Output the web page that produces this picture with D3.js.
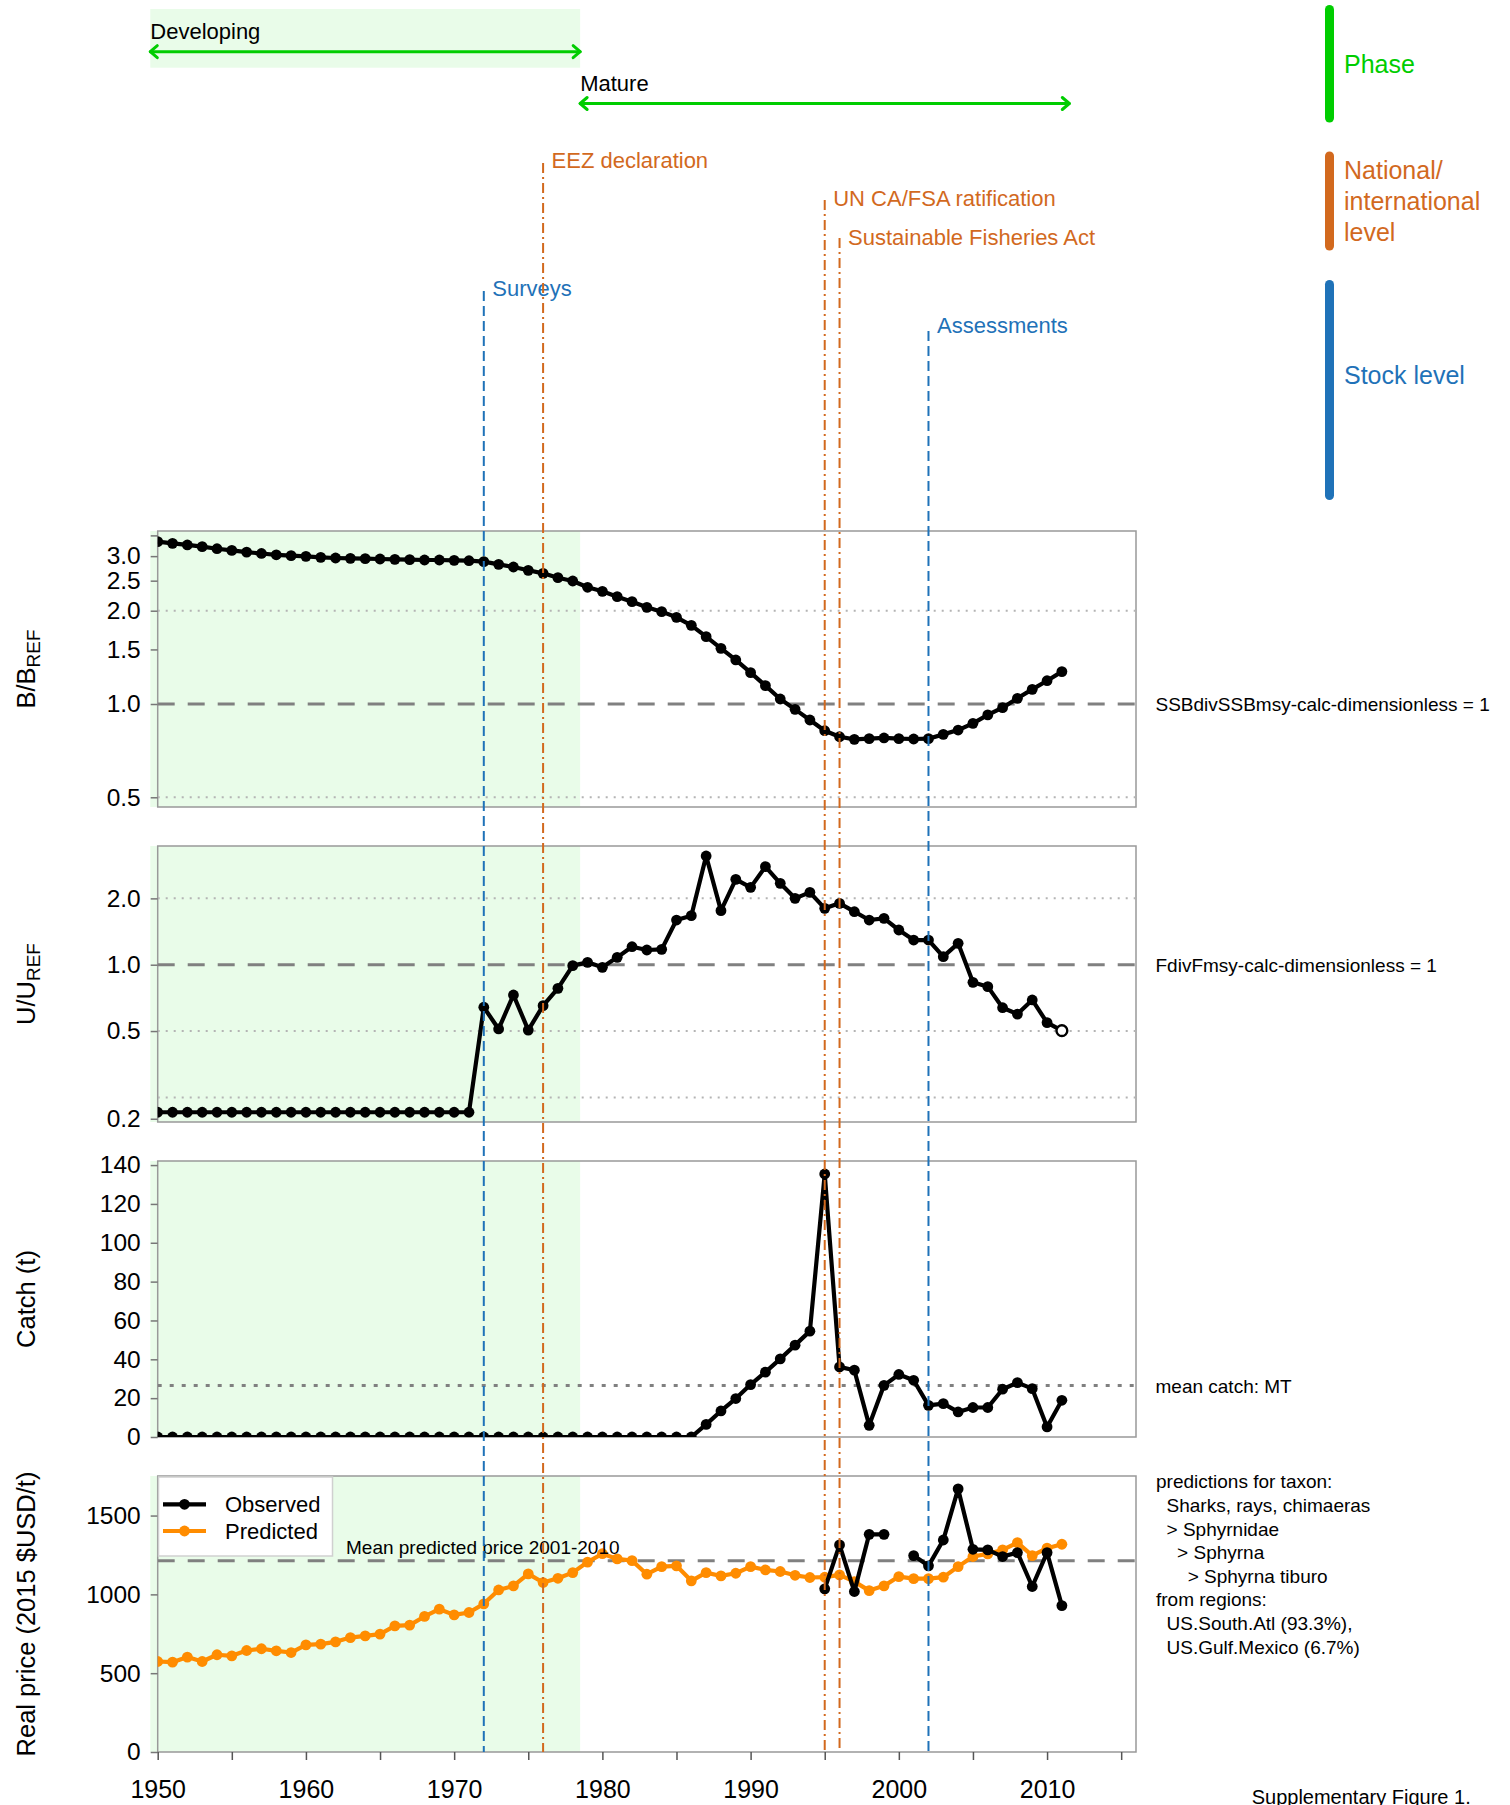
<!DOCTYPE html>
<html><head><meta charset="utf-8">
<script src="https://cdn.jsdelivr.net/npm/d3@7"></script>
<style>
body{margin:0;background:#fff}
svg{display:block}
text{font-family:"Liberation Sans",Arial,Helvetica,sans-serif}
</style>
</head><body>
<svg id="c" width="1510" height="1805"></svg>
<script>
// ---------------- DATA ----------------
const years = d3.range(1950, 2012);

const bRatio = [3.34,3.30,3.26,3.22,3.17,3.13,3.09,3.06,3.03,3.01,
  2.995,2.973,2.959,2.951,2.944,2.937,2.929,2.922,2.915,2.915,
  2.908,2.900,2.879,2.823,2.767,2.700,2.640,2.556,2.494,2.38,
  2.31,2.22,2.139,2.051,1.986,1.904,1.794,1.649,1.512,1.387,
  1.262,1.146,1.038,0.961,0.888,0.820,0.784,0.769,0.773,0.777,
  0.773,0.771,0.773,0.798,0.824,0.866,0.922,0.973,1.043,1.115,
  1.189,1.272];

const uRatio = [0.214,0.214,0.214,0.214,0.214,0.214,0.214,0.214,0.214,0.214,
  0.214,0.214,0.214,0.214,0.214,0.214,0.214,0.214,0.214,0.214,
  0.214,0.214,0.641,0.511,0.729,0.505,0.652,0.781,0.99,1.025,
  0.973,1.080,1.207,1.166,1.174,1.595,1.669,3.114,1.759,2.440,
  2.244,2.785,2.340,2.001,2.130,1.802,1.899,1.740,1.595,1.623,
  1.437,1.294,1.294,1.088,1.250,0.832,0.795,0.638,0.597,0.692,
  0.546,0.502];

const catchT = [0,0,0,0,0,0,0,0,0,0,
  0,0,0,0,0,0,0,0,0,0,
  0,0,0,0,0,0,0,0,0,0,
  0,0,0,0,0,0,0,6.5,13.4,19.8,
  27.0,33.4,40.2,47.3,54.5,135.4,36.1,34.4,6.0,26.6,
  32.2,29.2,16.3,17.2,12.9,15.2,15.2,24.6,28.0,24.9,
  5.2,18.9];

const pricePred = [574,570,602,574,617,610,644,655,642,631,
  680,684,699,726,737,748,800,805,860,906,
  870,885,940,1028,1054,1130,1075,1102,1138,1205,
  1258,1225,1214,1128,1176,1181,1086,1138,1117,1134,
  1176,1155,1145,1121,1107,1109,1124,1081,1024,1054,
  1113,1100,1100,1109,1176,1240,1257,1282,1328,1246,
  1293,1318];

const priceObsYears = d3.range(1995, 2012);
const priceObs = [1035,1314,1018,1381,1381,null,1246,1181,1345,1669,1286,1282,1240,1265,1050,1265,929];

const bTicks = [0.5,1,1.5,2,2.5,3,3.5];
const uTicks = [0.2,0.5,1,2];
const catchTicks = [0,20,40,60,80,100,120,140];
const priceTicks = [0,500,1000,1500];
const xTicks = d3.range(1950, 2016, 5);

const bGrid = [2, 0.5];
const uGrid = [2, 0.5, 0.25];
const refLevel = 1;
const meanCatch = 26.5;
const meanPrice = d3.mean(pricePred.slice(51, 61));

const eventYears = [1972, 1976, 1995, 1996, 2002];
const eventLabels = ["Surveys", "EEZ declaration", "UN CA/FSA ratification", "Sustainable Fisheries Act", "Assessments"];
const eventLevel = ["stock", "national", "national", "national", "stock"];

const phaseNames = ["Developing", "Mature"];
const phaseStart = [1949.5, 1978.5];
const phaseEnd = [1978.5, 2011.5];

const taxonLines = ["predictions for taxon:", "  Sharks, rays, chimaeras", "  > Sphyrnidae", "    > Sphyrna",
  "      > Sphyrna tiburo", "from regions:", "  US.South.Atl (93.3%),", "  US.Gulf.Mexico (6.7%)"];

// ---------------- LAYOUT / STYLE ----------------
const GREEN = '#00cd00', ORANGE = '#d2691e', BLUE = '#1f72b8', LIGHT = '#e9fce9',
      PRICE = '#ff8c00', GRID = '#b4b4b4', REFC = '#808080', BOX = '#999999';
const svg = d3.select('#c');
const X0 = 157.7, X1 = 1136;
const x = d3.scaleLinear().domain([1950, 2016]).range([X0, X1]);
const P = [{top:531, bot:807}, {top:846, bot:1122}, {top:1161, bot:1437}, {top:1476, bot:1752}];

const yB = d3.scaleLog().domain([0.4652, 3.616]).range([P[0].bot, P[0].top]);
const yU = d3.scaleLog().domain([0.1933, 3.457]).range([P[1].bot, P[1].top]);
const yC = d3.scaleLinear().domain([0, 142.1]).range([P[2].bot, P[2].top]);
const yP = d3.scaleLinear().domain([0, 1751]).range([P[3].bot, P[3].top]);

const defs = svg.append('defs');
P.forEach((p, i) => {
  defs.append('clipPath').attr('id', 'clip' + i).append('rect')
    .attr('x', X0).attr('y', p.top).attr('width', X1 - X0).attr('height', p.bot - p.top);
});

// ---------------- TOP PHASE AREA ----------------
svg.append('rect').attr('x', x(phaseStart[0])).attr('y', 9)
  .attr('width', x(phaseEnd[0]) - x(phaseStart[0])).attr('height', 58.7).attr('fill', LIGHT);

function dblArrow(x1, x2, y) {
  const g = svg.append('g').attr('stroke', GREEN).attr('stroke-width', 3).attr('fill', 'none')
    .attr('stroke-linecap', 'round').attr('stroke-linejoin', 'round');
  g.append('line').attr('x1', x1).attr('x2', x2).attr('y1', y).attr('y2', y);
  g.append('path').attr('d', `M${x1 + 7},${y - 6}L${x1},${y}L${x1 + 7},${y + 6}`);
  g.append('path').attr('d', `M${x2 - 7},${y - 6}L${x2},${y}L${x2 - 7},${y + 6}`);
}
const phaseTextY = [39.3, 91];
const phaseArrowY = [51.7, 103.5];
phaseNames.forEach((n, i) => {
  svg.append('text').attr('x', x(phaseStart[i])).attr('y', phaseTextY[i])
    .attr('font-size', 22).attr('fill', '#000').text(n);
  dblArrow(x(phaseStart[i]), x(phaseEnd[i]), phaseArrowY[i]);
});

// ---------------- PANELS ----------------
function panelBase(i, yS, ticks, fmt) {
  const p = P[i];
  svg.append('rect').attr('x', x(phaseStart[0])).attr('y', p.top)
    .attr('width', x(phaseEnd[0]) - x(phaseStart[0])).attr('height', p.bot - p.top).attr('fill', LIGHT);
  svg.append('rect').attr('x', X0).attr('y', p.top).attr('width', X1 - X0).attr('height', p.bot - p.top)
    .attr('fill', 'none').attr('stroke', BOX).attr('stroke-width', 1.5);
  const ax = svg.append('g').attr('transform', `translate(${X0},0)`)
    .call(d3.axisLeft(yS).tickValues(ticks).tickFormat(fmt).tickSize(7).tickPadding(10));
  ax.select('.domain').remove();
  ax.selectAll('.tick line').attr('stroke', '#777').attr('stroke-width', 1.5);
  ax.selectAll('.tick text').attr('font-size', 24.5).attr('fill', '#000')
    .attr('font-family', '"Liberation Sans",Arial,sans-serif');
  return svg.append('g').attr('clip-path', `url(#clip${i})`);
}
function hline(g, y, kind) {
  const l = g.append('line').attr('x1', X0).attr('x2', X1).attr('y1', y).attr('y2', y);
  if (kind === 'grid') l.attr('stroke', GRID).attr('stroke-width', 2).attr('stroke-dasharray', '2,6');
  if (kind === 'ref') l.attr('stroke', REFC).attr('stroke-width', 3).attr('stroke-dasharray', '17,13');
  if (kind === 'mean') l.attr('stroke', REFC).attr('stroke-width', 3).attr('stroke-dasharray', '4,8');
}
function series(g, yS, vals, color, xs, lastOpen) {
  const xv = xs || years;
  const pts = xv.map((yr, k) => ({yr, v: vals[k]}));
  g.append('path').datum(pts)
    .attr('d', d3.line().defined(d => d.v != null).x(d => x(d.yr)).y(d => yS(d.v)))
    .attr('fill', 'none').attr('stroke', color).attr('stroke-width', 4.2).attr('stroke-linejoin', 'round');
  g.selectAll(null).data(pts.filter(d => d.v != null)).enter().append('circle')
    .attr('cx', d => x(d.yr)).attr('cy', d => yS(d.v)).attr('r', 5.4)
    .attr('fill', (d, k, arr) => (lastOpen && k === arr.length - 1) ? '#fff' : color)
    .attr('stroke', color).attr('stroke-width', (d, k, arr) => (lastOpen && k === arr.length - 1) ? 2.4 : 0);
}

const f1 = d3.format('.1f');
// Panel 1
let g = panelBase(0, yB, bTicks, d => d === 3.5 ? '' : f1(d));
bGrid.forEach(v => hline(g, yB(v), 'grid'));
hline(g, yB(refLevel), 'ref');
series(g, yB, bRatio, '#000');

// Panel 2
g = panelBase(1, yU, uTicks, f1);
uGrid.forEach(v => hline(g, yU(v), 'grid'));
hline(g, yU(refLevel), 'ref');
series(g, yU, uRatio, '#000', null, true);

// Panel 3
g = panelBase(2, yC, catchTicks, d3.format('d'));
hline(g, yC(meanCatch), 'mean');
series(g, yC, catchT, '#000');

// Panel 4
g = panelBase(3, yP, priceTicks, d3.format('d'));
hline(g, yP(meanPrice), 'ref');
series(g, yP, pricePred, PRICE);
series(g, yP, priceObs, '#000', priceObsYears);

// X axis
const xa = svg.append('g').attr('transform', `translate(0,${P[3].bot})`)
  .call(d3.axisBottom(x).tickValues(xTicks).tickFormat(d => d % 10 === 0 ? d : '').tickSize(8));
xa.select('.domain').remove();
xa.selectAll('.tick line').attr('stroke', '#555').attr('stroke-width', 1.5);
xa.selectAll('.tick text').attr('font-size', 25).attr('fill', '#000').attr('dy', null).attr('y', 46)
  .attr('font-family', '"Liberation Sans",Arial,sans-serif');

// Legend in price panel
const lg = svg.append('g');
lg.append('rect').attr('x', 158.5).attr('y', 1477).attr('width', 174).attr('height', 79)
  .attr('fill', '#fff').attr('stroke', '#d0d0d0').attr('stroke-width', 1.5);
[['Observed', '#000', 1504.3, 1512], ['Predicted', PRICE, 1531, 1539]].forEach(r => {
  lg.append('line').attr('x1', 163).attr('x2', 206).attr('y1', r[2]).attr('y2', r[2])
    .attr('stroke', r[1]).attr('stroke-width', 4.2);
  lg.append('circle').attr('cx', 184.5).attr('cy', r[2]).attr('r', 5.4).attr('fill', r[1]);
  lg.append('text').attr('x', 225).attr('y', r[3]).attr('font-size', 22).text(r[0]);
});
svg.append('text').attr('x', 346).attr('y', 1554.3).attr('font-size', 19).text('Mean predicted price 2001-2010');

// ---------------- EVENT LINES ----------------
const evBaseline = [296, 168, 206, 245, 333];
const evLineTop = [291, 163, 200, 238, 331];
eventYears.forEach((yr, i) => {
  const col = eventLevel[i] === 'stock' ? BLUE : ORANGE;
  svg.append('line').attr('x1', x(yr)).attr('x2', x(yr)).attr('y1', evLineTop[i]).attr('y2', P[3].bot)
    .attr('stroke', col).attr('stroke-width', 2)
    .attr('stroke-dasharray', eventLevel[i] === 'stock' ? '10,5' : '10,4,2,4');
  svg.append('text').attr('x', x(yr) + 8.5).attr('y', evBaseline[i]).attr('font-size', 22)
    .attr('fill', col).text(eventLabels[i]);
});

// ---------------- Y TITLES ----------------
function yTitle(cy, parts) {
  const t = svg.append('text').attr('transform', `translate(35,${cy}) rotate(-90)`)
    .attr('text-anchor', 'middle').attr('font-size', 25.5);
  parts.forEach(pt => {
    const s = t.append('tspan').text(pt[0]);
    if (pt[1]) s.attr('font-size', 19).attr('dy', 5);
  });
}
yTitle((P[0].top + P[0].bot) / 2, [['B/B'], ['REF', true]]);
yTitle((P[1].top + P[1].bot) / 2, [['U/U'], ['REF', true]]);
yTitle((P[2].top + P[2].bot) / 2, [['Catch (t)']]);
yTitle((P[3].top + P[3].bot) / 2, [['Real price (2015 $USD/t)']]);

// ---------------- RIGHT SIDE TEXTS ----------------
svg.append('text').attr('x', 1155.5).attr('y', yB(refLevel) + 7).attr('font-size', 19).text('SSBdivSSBmsy-calc-dimensionless = 1');
svg.append('text').attr('x', 1155.5).attr('y', yU(refLevel) + 7).attr('font-size', 19).text('FdivFmsy-calc-dimensionless = 1');
svg.append('text').attr('x', 1155.5).attr('y', yC(meanCatch) + 7).attr('font-size', 19).text('mean catch: MT');
taxonLines.forEach((s, k) => {
  svg.append('text').attr('x', 1156).attr('y', 1488.3 + k * 23.62).attr('font-size', 19)
    .attr('xml:space', 'preserve').style('white-space', 'pre').text(s);
});
svg.append('text').attr('x', 1251.7).attr('y', 1804).attr('font-size', 20).text('Supplementary Figure 1.');

// ---------------- LEVEL LEGEND (right) ----------------
const bars = [[GREEN, 9.5, 118], [ORANGE, 156, 246], [BLUE, 284.5, 495.5]];
bars.forEach(b => svg.append('line').attr('x1', 1329.5).attr('x2', 1329.5).attr('y1', b[1]).attr('y2', b[2])
  .attr('stroke', b[0]).attr('stroke-width', 9).attr('stroke-linecap', 'round'));
const legTexts = [['Phase', GREEN, 73.3], ['National/', ORANGE, 179], ['international', ORANGE, 210],
  ['level', ORANGE, 240.7], ['Stock level', BLUE, 384]];
legTexts.forEach(t => svg.append('text').attr('x', 1344).attr('y', t[2]).attr('font-size', 25)
  .attr('fill', t[1]).text(t[0]));
</script>
</body></html>
